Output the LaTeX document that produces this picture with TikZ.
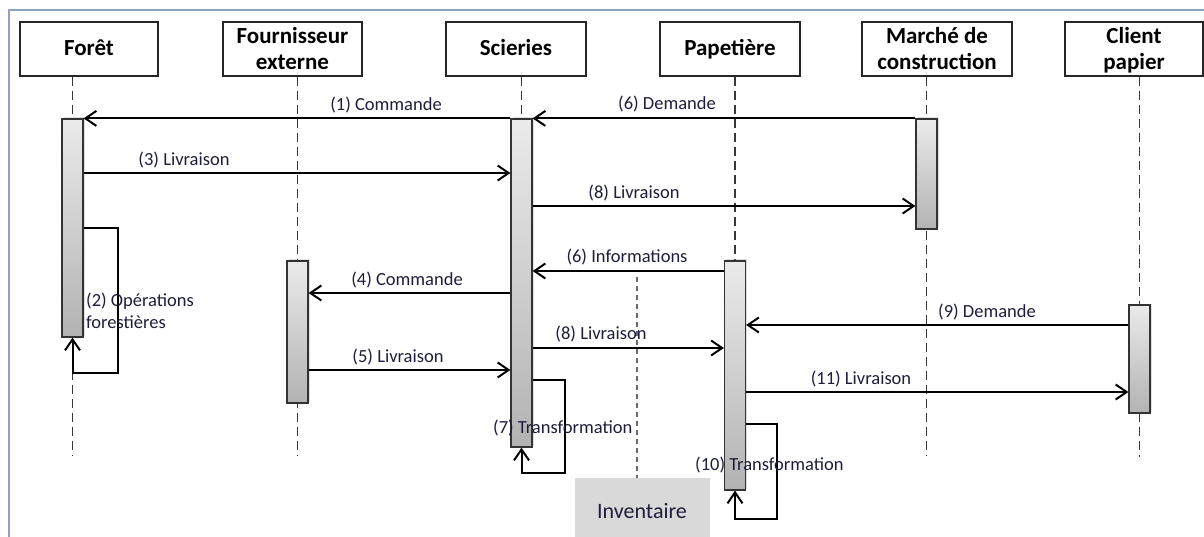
\documentclass[tikz,border=0pt]{standalone}
\usepackage{fontspec}
\setmainfont{Carlito}
\usetikzlibrary{arrows.meta,shadows}
\definecolor{framec}{RGB}{141,163,193}
\definecolor{labelc}{RGB}{30,30,60}
\definecolor{lifec}{RGB}{55,55,55}
\definecolor{invfill}{RGB}{217,217,217}
\definecolor{invline}{RGB}{105,105,105}
\begin{document}
\begin{tikzpicture}[x=1pt,y=-1pt,
  head/.style={draw=black!85, line width=1.4pt, fill=white, minimum width=#1,
    minimum height=54pt, inner sep=0pt},
  htxt/.style={anchor=base, inner sep=0pt, text=black,
    font=\fontsize{23}{26}\selectfont\bfseries},
  life/.style={draw=lifec, line width=1.3pt, dash pattern=on 9pt off 5pt},
  actbar/.style={draw=black!80, line width=1.2pt, top color=black!8,
    bottom color=black!30, minimum width=21pt, minimum height=#1, inner sep=0pt,
    drop shadow={shadow xshift=1.5pt, shadow yshift=1.5pt, opacity=0.25}},
  msg/.style={draw=black, line width=2pt,
    -{Straight Barb[length=11pt, width=15pt, line width=2pt]}},
  lbl/.style={text=labelc, inner sep=0pt, font=\fontsize{18.5}{22}\selectfont},
  invdash/.style={draw=invline, line width=1.4pt, dash pattern=on 5pt off 4pt}]

\useasboundingbox (0,0) rectangle (1204,537);
\fill[white] (0,0) rectangle (1204,537);

% outer frame
\draw[framec, line width=1.5pt] (9,560) -- (9,10) -- (1230,10);

% participants: boxes
\node[head=138] (hFo) at (89,49) {};
\node[head=139] (hFe) at (292.5,49) {};
\node[head=140] (hSc) at (516,49) {};
\node[head=140] (hPa) at (730,49) {};
\node[head=150] (hMa) at (937,49) {};
\node[head=138] (hCl) at (1134,49) {};
% participants: names
\node[htxt] (tFo) at (hFo.center |- 0,56) {Forêt};
\node[htxt] (tFe1) at (hFe.center |- 0,44) {Fournisseur};
\node[htxt] (tFe2) at (hFe.center |- 0,70) {externe};
\node[htxt] (tSc) at (hSc.center |- 0,56) {Scieries};
\node[htxt] (tPa) at (hPa.center |- 0,56) {Papetière};
\node[htxt] (tMa1) at (hMa.center |- 0,44) {Marché de};
\node[htxt] (tMa2) at (hMa.center |- 0,70) {construction};
\node[htxt] (tCl1) at (hCl.center |- 0,44) {Client};
\node[htxt] (tCl2) at (hCl.center |- 0,70) {papier};

% lifelines
\coordinate (eFo) at (72.5,455);
\coordinate (eFe) at (297.5,455);
\coordinate (eSc) at (521.5,455);
\coordinate (ePa) at (735,455);
\coordinate (eMa) at (926.5,455);
\coordinate (eCl) at (1139.5,457);
\draw[life] (eFo |- hFo.south) -- (eFo);
\draw[life] (eFe |- hFe.south) -- (eFe);
\draw[life] (eSc |- hSc.south) -- (eSc);
\draw[life] (ePa |- hPa.south) -- (ePa);
\draw[life] (eMa |- hMa.south) -- (eMa);
\draw[life] (eCl |- hCl.south) -- (eCl);

% inventory marker
\coordinate (iTop) at (637,277);
\node[fill=invfill, minimum width=135pt, minimum height=72pt, inner sep=0pt,
  anchor=north west] (inv) at (575,478) {};
\draw[invdash] (iTop) -- (iTop |- inv.north);
\node[lbl, anchor=base, font=\fontsize{22}{26}\selectfont] (invt) at (642,518) {Inventaire};

% activation bars
\node[actbar=218] (aFo) at (72.5,228) {};
\node[actbar=142] (aFe) at (297.5,332) {};
\node[actbar=328] (aSc) at (521.5,283) {};
\node[actbar=110] (aMa) at (926.5,174) {};
\node[actbar=229] (aPa) at (735,375.5) {};
\node[actbar=108] (aCl) at (1139.5,359) {};

% messages
\draw[msg] (aSc.north west) -- (aFo.north east);
\draw[msg] (aMa.north west) -- (aSc.north east);
\draw[msg] (aFo.east |- 0,173) -- (aSc.west |- 0,173);
\draw[msg] (aSc.east |- 0,206) -- (aMa.west |- 0,206);
\draw[msg] (aPa.west |- 0,271) -- (aSc.east |- 0,271);
\draw[msg] (aSc.west |- 0,293) -- (aFe.east |- 0,293);
\draw[msg] (aCl.west |- 0,325) -- (aPa.east |- 0,325);
\draw[msg] (aSc.east |- 0,348) -- (aPa.west |- 0,348);
\draw[msg] (aFe.east |- 0,370) -- (aSc.west |- 0,370);
\draw[msg] (aPa.east |- 0,392) -- (aCl.west |- 0,392);

% self messages
\draw[msg] (aFo.east |- 0,228) -| (118,373) -| (aFo.south);
\draw[msg] (aSc.east |- 0,380) -| (565,473) -| (aSc.south);
\draw[msg] (aPa.east |- 0,424) -| (777,519) -| (aPa.south);

% message labels
\node[lbl, anchor=base] (l1) at (386,111) {(1) Commande};
\node[lbl, anchor=base] (l6a) at (667,110) {(6) Demande};
\node[lbl, anchor=base] (l3) at (184,166) {(3) Livraison};
\node[lbl, anchor=base] (l8a) at (634,199) {(8) Livraison};
\node[lbl, anchor=base] (l6b) at (627,263) {(6) Informations};
\node[lbl, anchor=base] (l4) at (407,285) {(4) Commande};
\node[lbl, anchor=base] (l9) at (987,317) {(9) Demande};
\node[lbl, anchor=base] (l8b) at (601,339) {(8) Livraison};
\node[lbl, anchor=base] (l5) at (398,362) {(5) Livraison};
\node[lbl, anchor=base] (l11) at (861,384) {(11) Livraison};
\node[lbl, anchor=base west] (l2a) at (86,306) {(2) Opérations};
\node[lbl, anchor=base west] (l2b) at (86,328) {forestières};
\node[lbl, anchor=base west] (l7) at (493,433) {(7) Transformation};
\node[lbl, anchor=base west] (l10) at (695,470) {(10) Transformation};
\end{tikzpicture}
\end{document}
